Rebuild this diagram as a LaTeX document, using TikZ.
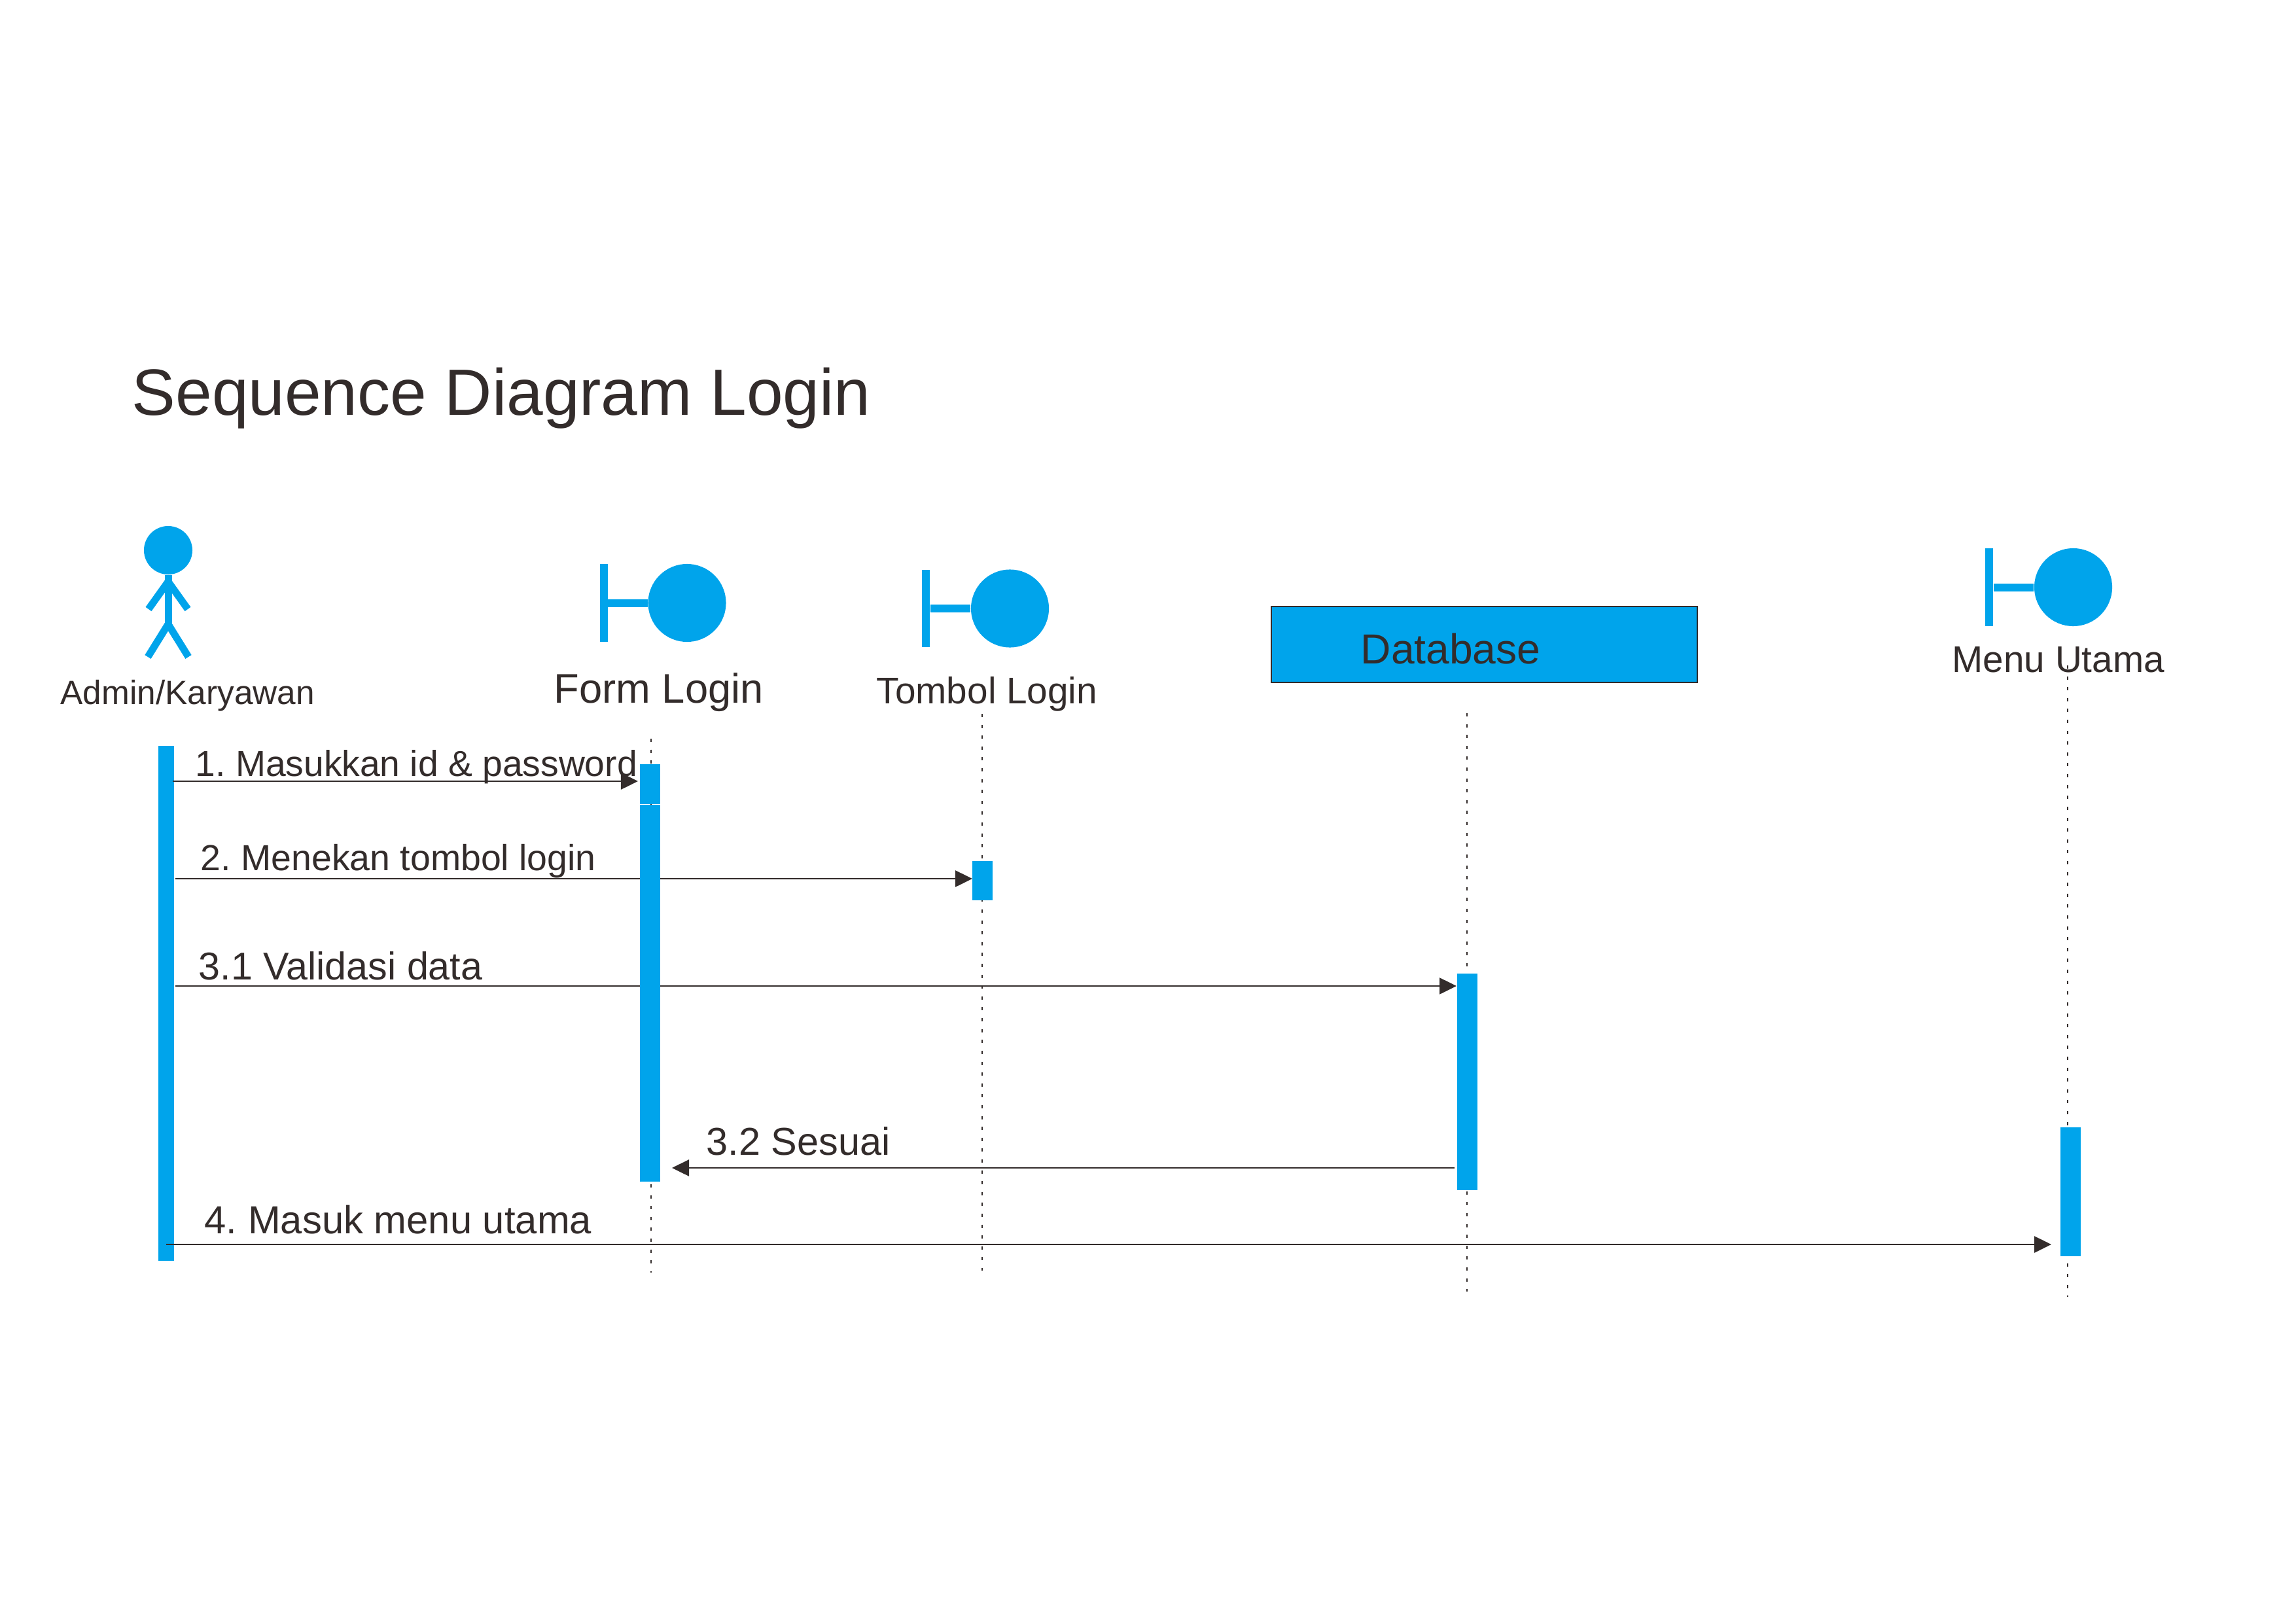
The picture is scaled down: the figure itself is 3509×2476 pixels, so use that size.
\documentclass[tikz,border=0pt]{standalone}
\usepackage{fontspec}
\setmainfont{Liberation Sans}
\usepackage{tikz}
\usetikzlibrary{arrows.meta,positioning}
\usepackage{xcolor}
\definecolor{seqblue}{HTML}{00A4EB}
\definecolor{seqink}{HTML}{332C2B}

\begin{document}
\frenchspacing
\begin{tikzpicture}[
  x=0.01cm, y=-0.01cm,
  txt/.style={anchor=base west, inner sep=0pt, text=seqink},
  actbar/.style={fill=seqblue, inner sep=0pt, minimum width=0.31cm},
  ball/.style={circle, fill=seqblue, inner sep=0pt, minimum size=1.19cm},
  stem/.style={fill=seqblue, inner sep=0pt, minimum width=0.12cm, minimum height=1.18cm},
  link/.style={draw=seqblue, line width=0.12cm},
  stick/.style={draw=seqblue, line width=0.11cm},
  life/.style={draw=seqink, line width=0.025cm, dash pattern=on 0.05cm off 0.116cm},
  msg/.style={draw=seqink, line width=0.025cm, -{Triangle[length=0.26cm,width=0.25cm]}}
]
\useasboundingbox (0,0) rectangle (3509,2476);
\node[txt, font=\fontsize{28.45}{32}\selectfont] (title) at (201,634) {Sequence Diagram Login};

% actor
\node[circle, fill=seqblue, inner sep=0pt, minimum size=0.74cm] (head) at (257,841) {};
\coordinate (shoulder) at (257,889);
\coordinate (hip) at (257,954);
\coordinate (armleft) at (227,931);
\coordinate (armright) at (287,931);
\coordinate (legleft) at (226,1004);
\coordinate (legright) at (288,1004);
\draw[stick] (head.south) -- (hip);
\draw[stick] (armleft) -- (shoulder) -- (armright);
\draw[stick] (legleft) -- (hip) -- (legright);
\node[txt, font=\fontsize{14.6}{17}\selectfont] (admin) at (92,1076) {Admin/Karyawan};

% boundaries
\node[ball] (formball) at (1050,921.5) {};
\node[stem] (formstem) at (922.5,921.5) {};
\draw[link] (formstem) -- (formball);
\node[txt, font=\fontsize{18}{20}\selectfont] (form) at (846,1074) {Form Login};

\node[ball] (tombolball) at (1543.5,930) {};
\node[stem] (tombolstem) at (1415,930) {};
\draw[link] (tombolstem) -- (tombolball);
\node[txt, font=\fontsize{16.13}{18}\selectfont] (tombol) at (1339,1075.5) {Tombol Login};

\node[ball] (menuball) at (3168.5,897.5) {};
\node[stem] (menustem) at (3040,897.5) {};
\draw[link] (menustem) -- (menuball);
\node[txt, font=\fontsize{16.1}{18}\selectfont] (menu) at (2983,1027) {Menu Utama};

% database
\node[draw=seqink, fill=seqblue, line width=0.022cm, inner sep=0pt, minimum width=6.51cm, minimum height=1.16cm] (dbbox) at (2268.5,985) {};
\node[txt, font=\fontsize{18.25}{21}\selectfont] (dblabel) at (2079,1014) {Database};

% lifelines
\coordinate (formtop) at (995,1129);
\coordinate (formbot) at (995,1945);
\coordinate (tomboltop) at (1501,1091);
\coordinate (tombolbot) at (1501,1942);
\coordinate (dbtop) at (2242,1090);
\coordinate (dbbot) at (2242,1974);
\coordinate (menutop) at (3160,1017);
\coordinate (menubot) at (3160,1982);
\draw[life] (formtop) -- (formbot);
\draw[life] (tomboltop) -- (tombolbot);
\draw[life] (dbtop) -- (dbbot);
\draw[life] (menutop) -- (menubot);

\node[actbar, minimum width=0.235cm, minimum height=7.87cm] (adminbar) at (254.25,1533.5) {};

% messages
\coordinate (startone) at (263.5,1194);
\coordinate (endone) at (975,1194);
\coordinate (starttwo) at (268,1343);
\coordinate (endtwo) at (1486,1343);
\coordinate (startval) at (268,1507);
\coordinate (endval) at (2226,1507);
\coordinate (startok) at (2223,1785);
\coordinate (endok) at (1027,1785);
\coordinate (startmenu) at (254,1902);
\coordinate (endmenu) at (3135,1902);
\draw[msg] (startone) -- (endone);
\draw[msg] (starttwo) -- (endtwo);
\draw[msg] (startval) -- (endval);
\draw[msg] (startok) -- (endok);
\draw[msg] (startmenu) -- (endmenu);

\node[actbar, minimum height=0.61cm] (formbartop) at (993.5,1198.5) {};
\node[actbar, minimum height=5.76cm] (formbar) at (993.5,1518) {};
\node[actbar, minimum height=0.60cm] (tombolbar) at (1501.75,1346) {};
\node[actbar, minimum height=3.31cm] (dbbar) at (2242.25,1653.5) {};
\node[actbar, minimum height=1.97cm] (menubar) at (3164,1821.5) {};

\node[txt, font=\fontsize{15.7}{18}\selectfont] (labelone) at (298,1186.5) {1. Masukkan id \& password};
\node[txt, font=\fontsize{15.77}{18}\selectfont] (labeltwo) at (306,1330) {2. Menekan tombol login};
\node[txt, font=\fontsize{16.85}{19}\selectfont] (labelval) at (303,1497) {3.1 Validasi data};
\node[txt, font=\fontsize{16.9}{19}\selectfont] (labelok) at (1079,1765) {3.2 Sesuai};
\node[txt, font=\fontsize{17}{19}\selectfont] (labelmenu) at (312,1885) {4. Masuk menu utama};
\end{tikzpicture}
\end{document}
